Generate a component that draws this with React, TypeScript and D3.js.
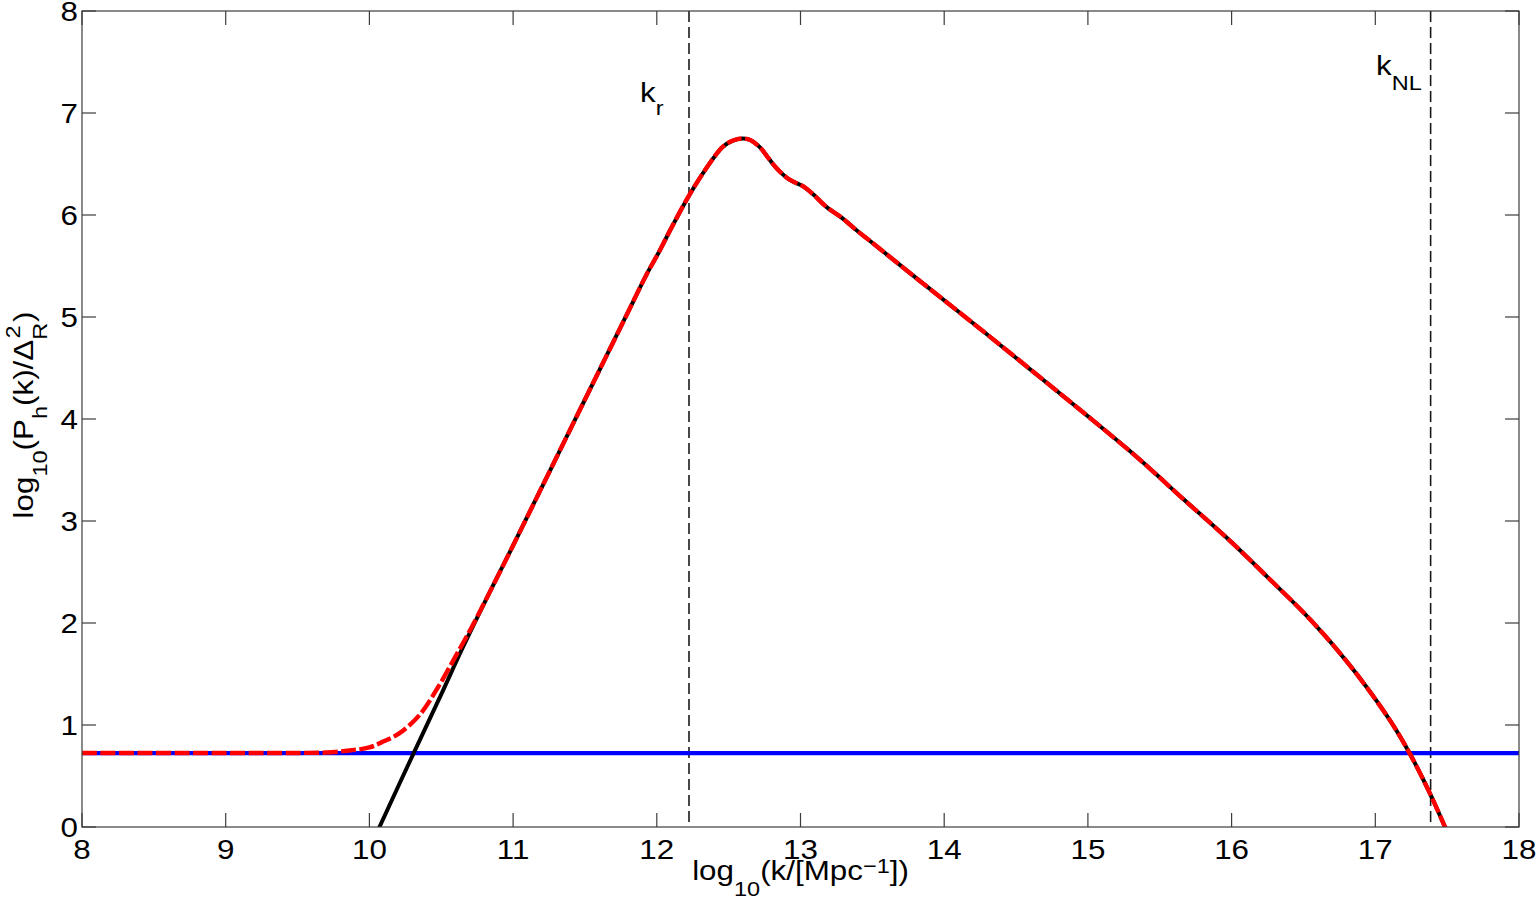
import React from 'react';
import * as d3 from 'd3';

// ---- data ----
const xTicks = [8, 9, 10, 11, 12, 13, 14, 15, 16, 17, 18];
const yTicks = [0, 1, 2, 3, 4, 5, 6, 7, 8];

const blueLevel = 0.725;

// low-k part of the black (solid) curve
const blackLowK = [9.98, 10.07, 10.3, 10.49, 10.65];
const blackLowY = [-0.28, 0, 0.7, 1.27, 1.76];

// low-k part of the red (dashed) curve
const redLowK = [8, 9, 9.5, 9.7, 9.86, 10.0, 10.1, 10.21, 10.35, 10.49, 10.61, 10.72];
const redLowY = [0.725, 0.725, 0.726, 0.73, 0.75, 0.78, 0.84, 0.92, 1.1, 1.4, 1.7, 1.98];

// shared part (both curves overlap)
const mainK = [10.84, 11.0, 11.36, 11.79, 11.93, 12.02, 12.1, 12.22, 12.35, 12.46, 12.53, 12.6, 12.65, 12.72, 12.77, 12.82, 12.86, 12.91, 12.96, 13.02, 13.09, 13.18, 13.29, 13.39, 13.48, 13.78, 14.28, 14.78, 15.28, 15.45, 15.66, 15.97, 16.25, 16.55, 16.82, 17.1, 17.24, 17.38, 17.485, 17.56];
const mainY = [2.31, 2.76, 3.79, 5.02, 5.42, 5.65, 5.87, 6.18, 6.47, 6.67, 6.73, 6.75, 6.735, 6.66, 6.57, 6.48, 6.42, 6.36, 6.32, 6.28, 6.2, 6.08, 5.97, 5.85, 5.75, 5.41, 4.85, 4.28, 3.7, 3.49, 3.22, 2.83, 2.45, 2.03, 1.59, 1.05, 0.72, 0.33, 0, -0.25];

const kR = 12.224;
const kNL = 17.385;

const FONT = '"Liberation Sans", Arial, Helvetica, sans-serif';
const FS = 28;   // main font size
const SFS = 21;  // sub/superscript font size
const SX = 1.12; // horizontal stretch of the reference's type

export default function App() {
  const W = 1536, H = 901;
  const x = d3.scaleLinear().domain([8, 18]).range([82, 1519]);
  const y = d3.scaleLinear().domain([0, 8]).range([827, 11]);
  const [x0, x1] = x.range();
  const [y0, y1] = y.range();

  const line = d3.line<[number, number]>()
    .x(d => x(d[0]))
    .y(d => y(d[1]))
    .curve(d3.curveCatmullRom.alpha(0.5));

  const mainPts: [number, number][] = mainK.map((k, i) => [k, mainY[i]]);
  const blackPts: [number, number][] = [...blackLowK.map((k, i) => [k, blackLowY[i]] as [number, number]), ...mainPts];
  const redPts: [number, number][] = [...redLowK.map((k, i) => [k, redLowY[i]] as [number, number]), ...mainPts];
  const bluePts: [number, number][] = [[8, blueLevel], [18, blueLevel]];

  const tickLen = 14;
  const axisColor = '#3c3c3c';

  return (
    <svg width={W} height={H} style={{ position: 'absolute', left: 0, top: 0, background: '#fff' }}>
      <defs>
        <clipPath id="plotclip">
          <rect x={x0} y={y1} width={x1 - x0} height={y0 - y1} />
        </clipPath>
      </defs>
      <rect x={0} y={0} width={W} height={H} fill="#fff" />

      {/* reference lines */}
      {[kR, kNL].map((k, i) => (
        <line key={'v' + i} x1={x(k)} x2={x(k)} y1={y1} y2={y0}
          stroke="#1a1a1a" strokeWidth={1.6} strokeDasharray="11 5" />
      ))}

      <g clipPath="url(#plotclip)">
        <path d={line(bluePts) || ''} fill="none" stroke="#0000ff" strokeWidth={4.2} />
        <path d={line(blackPts) || ''} fill="none" stroke="#000" strokeWidth={4} strokeLinejoin="round" />
        <path d={line(redPts) || ''} fill="none" stroke="#ff0000" strokeWidth={4.4} strokeDasharray="15 3.5" strokeLinejoin="round" />
      </g>

      {/* axes box */}
      <rect x={x0} y={y1} width={x1 - x0} height={y0 - y1} fill="none" stroke={axisColor} strokeWidth={1.2} />
      {xTicks.map(t => (
        <g key={'xt' + t}>
          <line x1={x(t)} x2={x(t)} y1={y0} y2={y0 - tickLen} stroke={axisColor} strokeWidth={1.2} />
          <line x1={x(t)} x2={x(t)} y1={y1} y2={y1 + tickLen} stroke={axisColor} strokeWidth={1.2} />
          <text transform={`translate(${x(t)},859) scale(${SX},1)`} textAnchor="middle"
            fontFamily={FONT} fontSize={FS} fill="#000">{t}</text>
        </g>
      ))}
      {yTicks.map(t => (
        <g key={'yt' + t}>
          <line x1={x0} x2={x0 + tickLen} y1={y(t)} y2={y(t)} stroke={axisColor} strokeWidth={1.2} />
          <line x1={x1} x2={x1 - tickLen} y1={y(t)} y2={y(t)} stroke={axisColor} strokeWidth={1.2} />
          <text transform={`translate(78,${y(t) + 10}) scale(${SX},1)`} textAnchor="end"
            fontFamily={FONT} fontSize={FS} fill="#000">{t}</text>
        </g>
      ))}

      {/* x label */}
      <text transform={`translate(800.5,880) scale(${SX},1)`} textAnchor="middle" fontFamily={FONT} fontSize={FS} fill="#000">
        <tspan>log</tspan>
        <tspan fontSize={SFS} dy={16}>10</tspan>
        <tspan dy={-16}>(k/[Mpc</tspan>
        <tspan fontSize={SFS} dy={-7}>−1</tspan>
        <tspan dy={7}>])</tspan>
      </text>

      {/* y label */}
      <text transform={`translate(33,415) rotate(-90) scale(${SX},1)`} textAnchor="middle" fontFamily={FONT} fontSize={FS} fill="#000">
        <tspan>log</tspan>
        <tspan fontSize={SFS} dy={14}>10</tspan>
        <tspan dy={-14}>(P</tspan>
        <tspan fontSize={SFS} dy={14}>h</tspan>
        <tspan dy={-14}>(k)/Δ</tspan>
        <tspan fontSize={SFS} dy={14}>R</tspan>
        <tspan fontSize={SFS} dx={-14} dy={-27}>2</tspan>
        <tspan dx={3} dy={13}>)</tspan>
      </text>

      {/* annotations */}
      <text transform={`translate(640,102) scale(${SX},1)`} fontFamily={FONT} fontSize={FS} fill="#000">
        <tspan>k</tspan>
        <tspan fontSize={SFS} dy={13}>r</tspan>
      </text>
      <text transform={`translate(1376,75) scale(${SX},1)`} fontFamily={FONT} fontSize={FS} fill="#000">
        <tspan>k</tspan>
        <tspan fontSize={SFS} dy={15}>NL</tspan>
      </text>
    </svg>
  );
}
